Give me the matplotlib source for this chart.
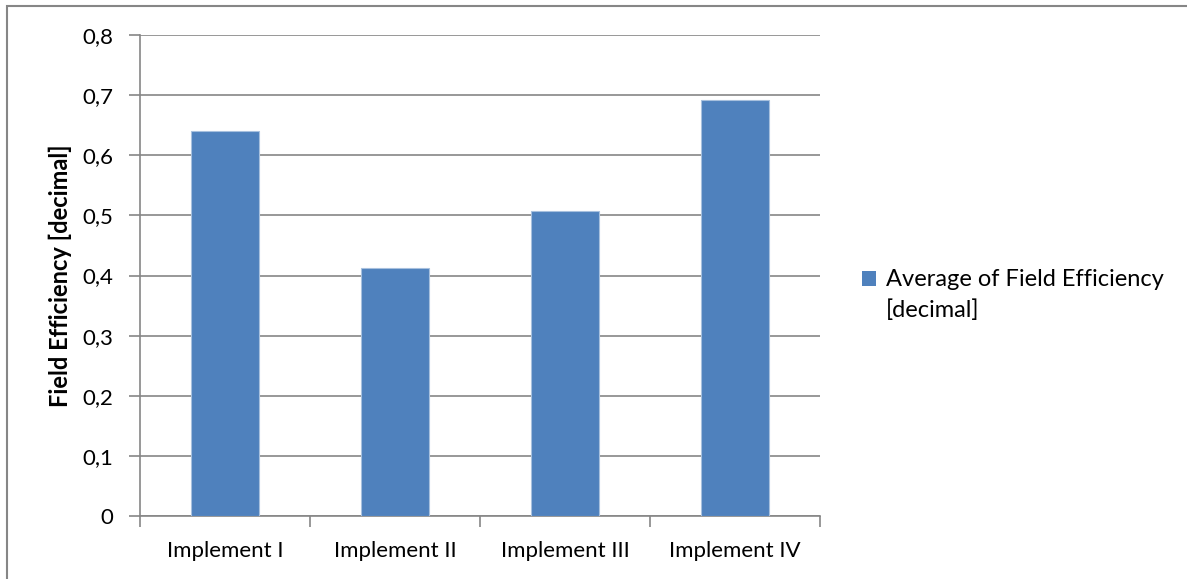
import numpy as np
import matplotlib.pyplot as plt
from matplotlib.patches import Rectangle
from matplotlib.container import BarContainer
from matplotlib.legend_handler import HandlerPatch


# data
implements = ["Implement I", "Implement II", "Implement III", "Implement IV"]
field_eff = [0.641, 0.413, 0.508, 0.692]
y_ticks = [0.0, 0.1, 0.2, 0.3, 0.4, 0.5, 0.6, 0.7, 0.8]

BAR_COLOR = "#4F81BD"
GRID_COLOR = "#868686"
W, H = 1187, 579

plt.rcParams["font.family"] = ["Lato", "DejaVu Sans"]


def first_line_square(legend, orig_handle, xdescent, ydescent, width, height, fontsize):
    # Excel puts the legend key next to the first line of a wrapped label
    return Rectangle((-xdescent, -ydescent + 0.7 * fontsize), width, height)


def copy_from_bar(legend_handle, orig_handle):
    legend_handle.update_from(orig_handle.patches[0])
    legend_handle.set_edgecolor("none")


fig = plt.figure(figsize=(W / 100, H / 100), dpi=100)
ax = fig.add_axes([140 / W, 1 - 516 / H, 680 / W, (516 - 35) / H])

x = np.arange(len(implements))
bars = ax.bar(x, field_eff, width=0.4, color=BAR_COLOR, edgecolor="#A7C0DE",
              linewidth=0.8, zorder=3, label="Average of Field Efficiency\n[decimal]")

ax.set_xlim(-0.5, len(implements) - 0.5)
ax.set_ylim(0, 0.8)

# gridlines + axis
ax.set_yticks(y_ticks)
ax.set_yticklabels(["0" if v == 0 else f"{v:.1f}".replace(".", ",") for v in y_ticks])
ax.yaxis.grid(True, color=GRID_COLOR, linewidth=1.2, zorder=0)
for s in ["top", "right"]:
    ax.spines[s].set_visible(False)
for s in ["left", "bottom"]:
    ax.spines[s].set_color(GRID_COLOR)
    ax.spines[s].set_linewidth(1.2)

ax.tick_params(axis="y", length=8, width=1.2, color=GRID_COLOR, labelsize=16, pad=11)

# category ticks on boundaries, labels centred
ax.set_xticks(np.arange(len(implements) + 1) - 0.5)
ax.set_xticklabels([])
ax.set_xticks(x, minor=True)
ax.set_xticklabels(implements, minor=True)
ax.tick_params(axis="x", which="major", length=8, width=1.2, color=GRID_COLOR)
ax.tick_params(axis="x", which="minor", length=0, labelsize=16, pad=18)

ax.set_ylabel("Field Efficiency [decimal]", fontsize=17, fontweight="bold", labelpad=8)

leg = ax.legend(loc="center left", bbox_to_anchor=(841 / W, 1 - 295 / H),
                bbox_transform=fig.transFigure, frameon=False, fontsize=17,
                handlelength=0.6, handleheight=0.6, handletextpad=0.4,
                handler_map={BarContainer: HandlerPatch(patch_func=first_line_square,
                                                        update_func=copy_from_bar)})
for t in leg.get_texts():
    t.set_linespacing(1.5)

# chart area border (only left/top visible in the crop)
fig.patches.append(Rectangle((7 / W, -0.1), 1.2, 1 - 6 / H + 0.1,
                             transform=fig.transFigure, fill=False,
                             edgecolor=GRID_COLOR, linewidth=1.5))

fig.savefig("out.png", dpi=100)
